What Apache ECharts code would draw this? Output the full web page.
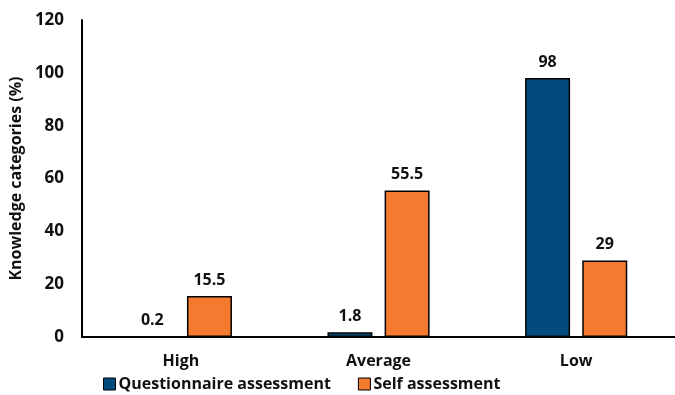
<!DOCTYPE html>
<html>
<head>
<meta charset="utf-8">
<script src="https://cdn.jsdelivr.net/npm/echarts@6/dist/echarts.min.js"></script>
<style>
  html, body { margin: 0; padding: 0; background: #fff; }
  #chart { width: 675px; height: 395px; }
</style>
</head>
<body>
<div id="chart"></div>
<script>
// Knowledge level categories and the share of respondents in each (%)
const categories = ['High', 'Average', 'Low'];
const questionnaire = [0.2, 1.8, 98];
const selfAssessment = [15.5, 55.5, 29];
const yTicks = { min: 0, max: 120, interval: 20 };

const FONT = '"Open Sans"';
const chart = echarts.init(document.getElementById('chart'));

const labelStyle = {
  show: true,
  position: 'top',
  distance: 8,
  fontFamily: FONT,
  fontWeight: 'bold',
  fontSize: 16,
  color: '#111'
};

chart.setOption({
  animation: false,
  grid: { left: 80, right: -3, top: 20, bottom: 58 },
  legend: {
    bottom: -2,
    left: 98,
    itemWidth: 12,
    itemHeight: 12,
    itemGap: 27,
    icon: 'rect',
    textStyle: { fontFamily: FONT, fontWeight: 'bold', fontSize: 16, color: '#111', padding: [0, 0, 0, -2] },
    itemStyle: { borderColor: '#000', borderWidth: 1 },
    data: ['Questionnaire assessment', 'Self assessment']
  },
  xAxis: {
    type: 'category',
    data: categories,
    axisLine: { lineStyle: { color: '#000', width: 2 } },
    axisTick: { show: false },
    axisLabel: { fontFamily: FONT, fontWeight: 'bold', fontSize: 16, color: '#111', margin: 16 }
  },
  yAxis: {
    type: 'value',
    min: yTicks.min,
    max: yTicks.max,
    interval: yTicks.interval,
    name: 'Knowledge categories (%)',
    nameLocation: 'middle',
    nameGap: 56,
    nameTextStyle: { fontFamily: FONT, fontWeight: 'bold', fontSize: 16, color: '#111' },
    axisLine: { show: true, lineStyle: { color: '#000', width: 2 } },
    axisTick: { show: false },
    splitLine: { show: false },
    axisLabel: { fontFamily: FONT, fontWeight: 'bold', fontSize: 17, color: '#111', margin: 18 }
  },
  series: [
    {
      name: 'Questionnaire assessment',
      type: 'bar',
      data: questionnaire,
      barWidth: 45,
      barGap: '27%',
      itemStyle: { color: '#024c7d', borderColor: '#000', borderWidth: 1.5 },
      label: labelStyle
    },
    {
      name: 'Self assessment',
      type: 'bar',
      data: selfAssessment,
      barWidth: 45,
      itemStyle: { color: '#f47a30', borderColor: '#000', borderWidth: 1.5 },
      label: labelStyle
    }
  ]
});
</script>
</body>
</html>
